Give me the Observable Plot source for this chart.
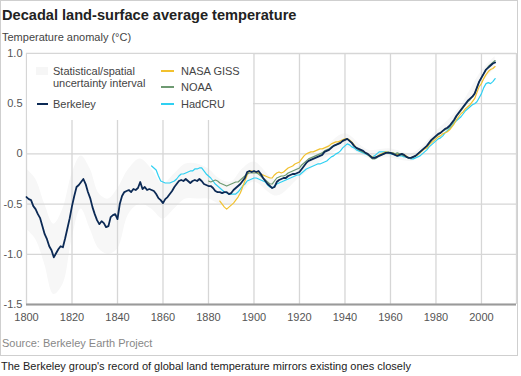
<!DOCTYPE html>
<html><head><meta charset="utf-8">
<script src="https://cdn.jsdelivr.net/npm/d3@7"></script>
<script src="https://cdn.jsdelivr.net/npm/@observablehq/plot@0.6"></script>
<style>
body{margin:0;font-family:"Liberation Sans",Arial,Helvetica,sans-serif;background:#fff;}
#wrap{position:relative;width:521px;height:376px;overflow:hidden;}
#box{position:absolute;left:0;top:0;width:518px;height:356px;border:1px solid #cfcfcf;box-sizing:border-box;}
.t{position:absolute;white-space:nowrap;line-height:1;}
#title{left:2px;top:8px;font-size:14.6px;font-weight:bold;color:#222;}
#sub{left:2px;top:32px;font-size:11px;color:#444;}
#chart{position:absolute;left:0;top:44px;}
#legend{position:absolute;left:27px;top:54px;width:226px;height:66px;background:#fff;}
.lt{position:absolute;font-size:11px;color:#444;white-space:nowrap;line-height:1;}
.ll{position:absolute;}
#source{left:2px;top:338px;font-size:11px;color:#888;}
#caption{left:1px;top:361px;font-size:11px;color:#222;}
</style></head>
<body>
<div id="wrap">
<div id="box"></div>
<div class="t" id="title">Decadal land-surface average temperature</div>
<div class="t" id="sub">Temperature anomaly (°C)</div>
<div id="chart"></div>
<div id="legend"></div>
<div class="t" id="source">Source: Berkeley Earth Project</div>
<div class="t" id="caption">The Berkeley group's record of global land temperature mirrors existing ones closely</div>
</div>
<script>
// ---- data ----
const xTicks = [1800,1820,1840,1860,1880,1900,1920,1940,1960,1980,2000];
const yTicks = [1.0,0.5,0,-0.5,-1.0,-1.5];
const yTickLabels = ["1.0","0.5","0","-0.5","-1.0","-1.5"];

const berkeleyStart = 1800;
const berkeley = [-0.43,-0.45,-0.46,-0.52,-0.55,-0.60,-0.64,-0.72,-0.80,-0.85,
-0.92,-0.96,-1.03,-0.99,-0.95,-0.92,-0.93,-0.84,-0.74,-0.64,
-0.52,-0.42,-0.33,-0.31,-0.28,-0.25,-0.30,-0.38,-0.44,-0.53,
-0.60,-0.66,-0.70,-0.67,-0.69,-0.73,-0.72,-0.63,-0.61,-0.60,
-0.65,-0.50,-0.42,-0.38,-0.37,-0.36,-0.38,-0.35,-0.36,-0.34,
-0.28,-0.35,-0.33,-0.36,-0.35,-0.36,-0.37,-0.40,-0.44,-0.46,
-0.49,-0.45,-0.43,-0.40,-0.37,-0.33,-0.30,-0.27,-0.26,-0.27,
-0.25,-0.27,-0.29,-0.27,-0.26,-0.27,-0.25,-0.27,-0.30,-0.31,
-0.32,-0.32,-0.34,-0.37,-0.38,-0.38,-0.39,-0.38,-0.38,-0.40,
-0.39,-0.36,-0.34,-0.32,-0.30,-0.27,-0.24,-0.18,-0.17,-0.18,
-0.17,-0.18,-0.17,-0.20,-0.24,-0.27,-0.30,-0.32,-0.34,-0.33,
-0.28,-0.26,-0.25,-0.24,-0.24,-0.22,-0.21,-0.20,-0.20,-0.19,
-0.18,-0.15,-0.12,-0.09,-0.07,-0.06,-0.05,-0.04,-0.03,-0.02,
-0.01,0.02,0.03,0.04,0.06,0.08,0.09,0.10,0.11,0.13,
0.14,0.15,0.13,0.11,0.08,0.06,0.05,0.04,0.03,0.01,
0.00,-0.02,-0.04,-0.04,-0.03,-0.02,-0.01,0.00,0.01,0.01,
0.01,0.00,-0.01,-0.02,-0.01,0.00,-0.01,-0.03,-0.04,-0.04,
-0.03,-0.02,0.00,0.02,0.04,0.06,0.08,0.11,0.14,0.16,
0.18,0.20,0.21,0.23,0.25,0.26,0.28,0.31,0.34,0.38,
0.41,0.44,0.47,0.50,0.53,0.55,0.57,0.60,0.66,0.72,
0.76,0.80,0.84,0.86,0.88,0.90,0.91];

const gissStart = 1885;
const giss = [-0.47,-0.50,-0.53,-0.55,-0.53,-0.51,-0.49,-0.46,-0.43,-0.39,
-0.33,-0.27,-0.21,-0.17,-0.17,-0.18,-0.18,-0.19,-0.20,-0.21,
-0.22,-0.23,-0.24,-0.24,-0.21,-0.19,-0.18,-0.19,-0.18,-0.16,
-0.14,-0.13,-0.12,-0.10,-0.09,-0.08,-0.05,-0.02,0.00,0.01,
0.02,0.02,0.03,0.04,0.05,0.05,0.06,0.07,0.08,0.10,
0.11,0.12,0.12,0.13,0.14,0.15,0.15,0.14,0.12,0.09,
0.06,0.05,0.04,0.02,0.01,0.00,-0.02,-0.03,-0.04,-0.03,
-0.01,0.00,0.01,0.02,0.01,0.01,0.01,0.00,-0.01,0.00,
0.00,-0.01,-0.02,-0.04,-0.04,-0.03,-0.02,-0.01,0.01,0.03,
0.05,0.06,0.09,0.11,0.13,0.15,0.17,0.18,0.20,0.21,
0.22,0.24,0.27,0.30,0.34,0.37,0.40,0.42,0.45,0.47,
0.49,0.52,0.55,0.61,0.67,0.70,0.75,0.79,0.82,0.84,
0.85,0.87];

const noaaStart = 1880;
const noaa = [-0.27,-0.28,-0.27,-0.26,-0.27,-0.29,-0.30,-0.31,-0.32,-0.31,
-0.30,-0.29,-0.28,-0.28,-0.26,-0.24,-0.22,-0.20,-0.19,-0.19,
-0.19,-0.19,-0.20,-0.22,-0.24,-0.26,-0.28,-0.30,-0.30,-0.27,
-0.24,-0.23,-0.22,-0.22,-0.21,-0.19,-0.18,-0.17,-0.16,-0.15,
-0.14,-0.11,-0.09,-0.07,-0.05,-0.04,-0.03,-0.02,-0.01,0.00,
0.01,0.03,0.04,0.05,0.07,0.08,0.09,0.10,0.11,0.13,
0.14,0.15,0.13,0.11,0.08,0.06,0.04,0.03,0.02,0.01,
-0.01,-0.03,-0.05,-0.05,-0.04,-0.02,-0.01,0.00,0.01,0.02,
0.01,0.01,0.00,0.01,0.00,-0.01,-0.02,-0.03,-0.04,-0.04,
-0.03,-0.02,0.00,0.02,0.04,0.06,0.08,0.11,0.13,0.15,
0.17,0.19,0.21,0.23,0.24,0.25,0.27,0.30,0.33,0.37,
0.40,0.43,0.46,0.49,0.52,0.54,0.57,0.60,0.66,0.72,
0.76,0.80,0.84,0.87,0.89,0.91,0.93];

const hadcruStart = 1855;
const hadcru = [-0.12,-0.14,-0.16,-0.22,-0.27,-0.28,-0.29,-0.29,-0.29,-0.28,
-0.27,-0.25,-0.22,-0.20,-0.20,-0.19,-0.18,-0.17,-0.17,-0.15,
-0.15,-0.14,-0.14,-0.17,-0.20,-0.22,-0.24,-0.27,-0.30,-0.32,
-0.34,-0.36,-0.38,-0.39,-0.40,-0.40,-0.40,-0.40,-0.38,-0.35,
-0.32,-0.30,-0.27,-0.26,-0.25,-0.24,-0.24,-0.25,-0.26,-0.27,
-0.28,-0.31,-0.33,-0.34,-0.32,-0.30,-0.29,-0.28,-0.27,-0.26,
-0.25,-0.24,-0.23,-0.22,-0.21,-0.21,-0.19,-0.17,-0.15,-0.14,
-0.13,-0.12,-0.11,-0.10,-0.10,-0.09,-0.08,-0.07,-0.05,-0.03,
-0.02,0.00,0.01,0.03,0.06,0.08,0.10,0.09,0.07,0.06,
0.04,0.03,0.02,0.01,0.00,-0.01,-0.02,-0.03,-0.02,0.00,
0.02,0.02,0.02,0.02,0.01,0.00,0.00,-0.01,-0.02,-0.02,
-0.02,-0.03,-0.03,-0.04,-0.05,-0.05,-0.04,-0.03,-0.02,0.00,
0.02,0.04,0.07,0.09,0.11,0.13,0.15,0.16,0.18,0.21,
0.23,0.25,0.28,0.31,0.33,0.35,0.37,0.40,0.43,0.45,
0.47,0.49,0.50,0.52,0.56,0.60,0.66,0.70,0.71,0.70,
0.72,0.75];

const bandYears = [1800,1804,1808,1812,1816,1820,1824,1828,1832,1836,1840,1845,1850,1855,1860,1865,1870,1875,1880,1885,1890,1895,1900,1910,1920,1930,1940,1950,1960,1970,1980,1990,2000,2006];
const bandLow  = [-0.75,-0.85,-1.10,-1.40,-1.30,-0.85,-0.55,-0.75,-0.95,-1.00,-0.95,-0.60,-0.50,-0.55,-0.65,-0.55,-0.45,-0.45,-0.45,-0.50,-0.50,-0.38,-0.28,-0.42,-0.24,-0.07,0.06,-0.04,-0.04,-0.07,0.13,0.37,0.70,0.85];
const bandHigh = [-0.15,-0.25,-0.50,-0.70,-0.55,-0.20,-0.02,-0.15,-0.40,-0.45,-0.35,-0.15,-0.05,-0.15,-0.30,-0.20,-0.10,-0.10,-0.15,-0.25,-0.28,-0.15,-0.08,-0.26,-0.12,0.03,0.20,0.04,0.05,0.01,0.22,0.45,0.82,0.97];

const seriesNames = ["Berkeley","NASA GISS","NOAA","HadCRU"];
const seriesColors = ["#0c2a55","#f2c12e","#6e9a72","#2fd0f2"];

// ---- build tables ----
const toRows = (start, vals) => vals.map((v, i) => ({year: start + i, value: v}));
const rows = {
  "Berkeley": toRows(berkeleyStart, berkeley),
  "NASA GISS": toRows(gissStart, giss),
  "NOAA": toRows(noaaStart, noaa),
  "HadCRU": toRows(hadcruStart, hadcru)
};
const band = bandYears.map((y, i) => ({year: y, lo: bandLow[i], hi: bandHigh[i]}));

const lineMark = (name, w) => Plot.line(rows[name], {
  x: "year", y: "value",
  stroke: seriesColors[seriesNames.indexOf(name)],
  strokeWidth: w, curve: "linear"
});

const chart = Plot.plot({
  width: 521, height: 282,
  marginTop: 9, marginBottom: 22, marginLeft: 26, marginRight: 5,
  style: {fontSize: "11px", fontFamily: "'Liberation Sans', Arial, sans-serif", color: "#555", background: "transparent"},
  x: {domain: [1800, 2015.4], ticks: xTicks, tickFormat: d => String(d), tickSize: 0, tickPadding: 9, label: null},
  y: {domain: [-1.5, 1.0], ticks: yTicks, tickFormat: d => yTickLabels[yTicks.indexOf(d)], tickSize: 0, tickPadding: 4, label: null},
  marks: [
    Plot.areaY(band, {x: "year", y1: "lo", y2: "hi", fill: "#f7f7f7", curve: "catmull-rom"}),
    Plot.ruleX(xTicks, {stroke: "#d6d6d6", strokeWidth: 1.3}),
    Plot.ruleY(yTicks, {stroke: "#d6d6d6", strokeWidth: 1.3}),
    Plot.ruleX([2015.4], {stroke: "#d6d6d6", strokeWidth: 1.3}),
    lineMark("HadCRU", 1.2),
    lineMark("NASA GISS", 1.2),
    lineMark("NOAA", 1.2),
    lineMark("Berkeley", 1.8),
    Plot.ruleY([-1.5], {stroke: "#9a9a9a", strokeWidth: 2.2})
  ]
});
document.getElementById("chart").appendChild(chart);

// ---- legend (HTML overlay inside the plot) ----
const lg = document.getElementById("legend");
function add(html){ lg.insertAdjacentHTML("beforeend", html); }
add('<div style="position:absolute;left:9px;top:13px;width:12px;height:8px;background:#f6f6f6"></div>');
add('<div class="lt" style="left:26px;top:12px">Statistical/spatial</div>');
add('<div class="lt" style="left:26px;top:24px">uncertainty interval</div>');
const legendItems = [
  {name: "Berkeley", x: 10, y: 50, w: 11, tx: 26},
  {name: "NASA GISS", x: 134, y: 17, w: 13, tx: 154},
  {name: "NOAA", x: 134, y: 33, w: 13, tx: 154},
  {name: "HadCRU", x: 134, y: 50, w: 13, tx: 154}
];
legendItems.forEach(it => {
  const c = seriesColors[seriesNames.indexOf(it.name)];
  add(`<div class="ll" style="left:${it.x}px;top:${it.y - 1}px;width:${it.w}px;height:2px;background:${c}"></div>`);
  add(`<div class="lt" style="left:${it.tx}px;top:${it.y - 5}px">${it.name}</div>`);
});
</script>
</body></html>
